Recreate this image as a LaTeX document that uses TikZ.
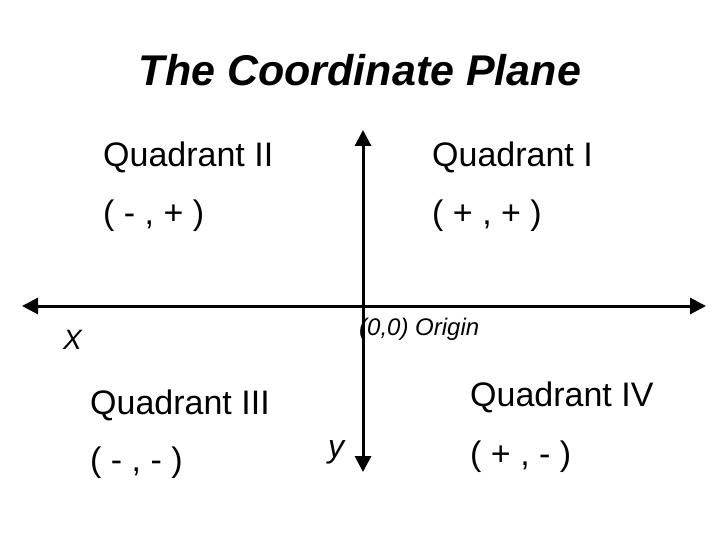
\documentclass[tikz,border=0pt]{standalone}
\usepackage{fontspec}
\setmainfont{Liberation Sans}
\usetikzlibrary{arrows.meta}
\begin{document}
\begin{tikzpicture}[x=1pt,y=-1pt,
  lbl/.style={anchor=west,inner sep=0pt,font=\fontsize{34}{36}\selectfont},
  ax/.style={line width=3pt,{Triangle[length=16pt,width=16pt]}-{Triangle[length=16pt,width=16pt]}}]
\useasboundingbox (0,0) rectangle (720,540);
\node (title) at (360,70) {\fontsize{43}{46}\selectfont\bfseries\itshape The Coordinate Plane};
\coordinate (L) at (22,306); \coordinate (R) at (706,306);
\coordinate (T) at (363,130); \coordinate (B) at (363,472);
\draw[ax] (L) -- (R);
\draw[ax] (T) -- (B);
\node[lbl] (q2) at (103,157) {Quadrant II};
\node[lbl] (q1) at (432,157) {Quadrant I};
\node[lbl] (s2) at (103,216) {( - , + )};
\node[lbl] (s1) at (432,216) {( + , + )};
\node[lbl] (q3) at (90,405) {Quadrant III};
\node[lbl] (q4) at (470,397) {Quadrant IV};
\node[lbl] (s3) at (90,463) {( - , - )};
\node[lbl] (s4) at (470,457) {( + , - )};
\node[anchor=west,inner sep=0pt,font=\fontsize{28}{30}\selectfont\itshape] (X) at (63,340) {X};
\node[anchor=west,inner sep=0pt,font=\fontsize{32}{34}\selectfont\itshape] (Y) at (328,452) {y};
\node[anchor=west,inner sep=0pt,font=\fontsize{24}{26}\selectfont\itshape] (O) at (359,329) {(0,0) Origin};
\end{tikzpicture}
\end{document}
